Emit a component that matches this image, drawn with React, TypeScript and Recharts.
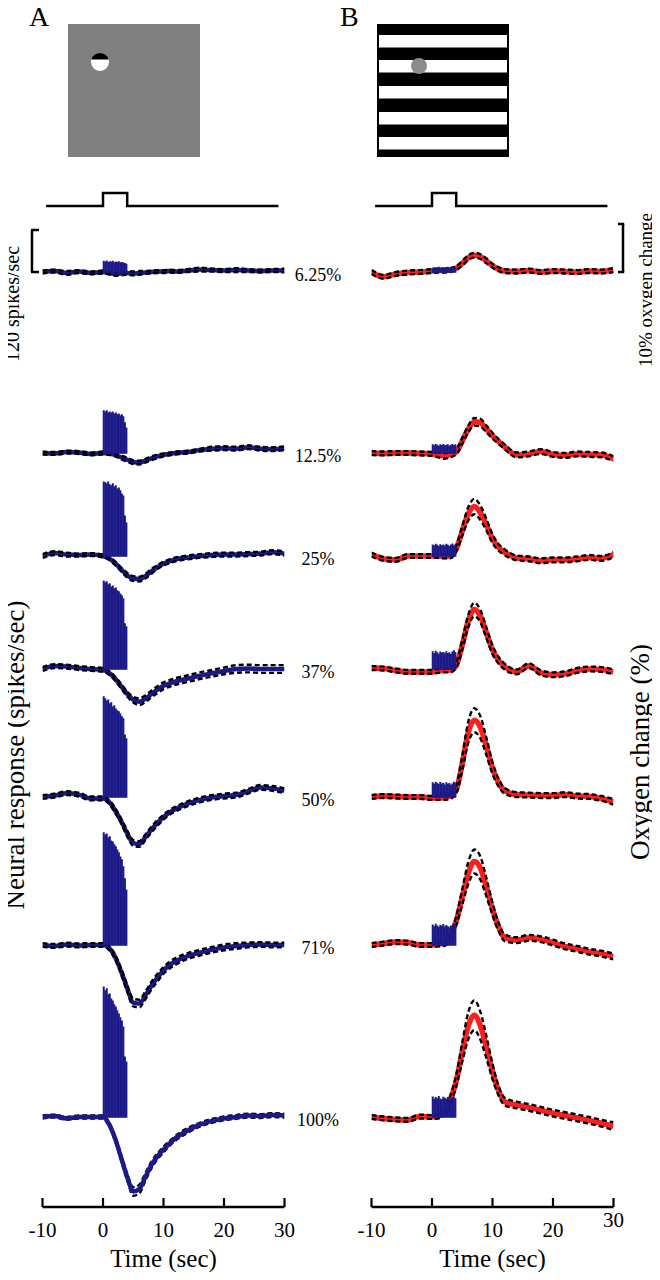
import React from "react";
import { ComposedChart, LineChart, Bar, Line, XAxis, YAxis, ReferenceLine } from "recharts";

// time grid of the oxygen traces (sec)
const times = [-10, -8, -6, -4, -2, 0, 1, 2, 3, 4, 5, 6, 7, 8, 9, 10, 11, 12, 14, 16, 18, 20, 22, 24, 26, 28, 30];
// centres of the spike-rate bins during the stimulus (sec)
const binTimes = [0.125, 0.375, 0.625, 0.875, 1.125, 1.375, 1.625, 1.875, 2.125, 2.375, 2.625, 2.875, 3.125, 3.375, 3.625, 3.875];
const contrasts = ["6.25%", "12.5%", "25%", "37%", "50%", "71%", "100%"];
const timeTicks = [-10, 0, 10, 20, 30];
const stimTimes = [-9.4, 0, 4, 29];
const stimLevel = [0, 1, 0, 0];

// A: oxygen change (%), mean and s.e.
const oxyA625 = [0, 0.2, -0.2, 0.1, -0.2, 0, -0.2, -0.4, -0.3, -0.2, -0.3, -0.2, -0.1, 0, 0.1, 0.1, 0.2, 0.1, 0.3, 0.5, 0.4, 0.3, 0.4, 0.3, 0.2, 0.3, 0.3];
const oxyA125 = [0, -0.1, 0.2, 0.1, -0.2, 0, -0.1, -0.4, -0.9, -1.4, -1.9, -2.0, -1.6, -1.1, -0.7, -0.4, -0.2, 0, 0.2, 0.6, 0.9, 1.0, 0.9, 1.2, 0.9, 0.8, 1.0];
const oxyA25 = [0, 0.6, 0.3, 0.2, 0.3, 0, -0.5, -1.5, -2.8, -4.0, -4.7, -4.8, -4.2, -3.2, -2.3, -1.6, -1.1, -0.7, -0.3, 0, 0.2, 0.3, 0.3, 0.4, 0.5, 0.8, 0.5];
const oxyA37 = [0, 0.6, 0.5, 0.2, 0, -0.2, -0.8, -2.0, -3.6, -5.2, -6.4, -6.8, -6.2, -5.2, -4.3, -3.5, -3.0, -2.6, -2.0, -1.4, -0.9, -0.4, 0, 0.1, 0, 0, 0];
const oxyA50 = [0, 0.3, 0.8, 0.5, -0.3, -0.3, -1.0, -2.8, -5.0, -7.6, -9.6, -9.8, -8.4, -6.8, -5.4, -4.2, -3.2, -2.5, -1.4, -0.6, -0.1, 0.2, 0.4, 1.2, 2.0, 1.8, 1.3];
const oxyA71 = [0, -0.2, 0.1, -0.1, 0, 0, -0.6, -2.5, -5.5, -9.0, -12.0, -12.2, -10.5, -8.5, -6.8, -5.3, -4.2, -3.4, -2.3, -1.6, -1.0, -0.5, -0.2, 0, 0.1, 0, 0];
const oxyA100 = [0, 0.2, -0.3, 0, 0, 0, -1.5, -4.5, -8.5, -12.5, -15.5, -15.0, -12.5, -10.0, -8.2, -6.8, -5.5, -4.4, -2.8, -1.6, -0.8, -0.3, 0, 0.3, 0.2, 0.4, 0.3];

const seA625 = [0.3, 0.3, 0.4, 0.3, 0.3, 0.3, 0.3, 0.4, 0.4, 0.4, 0.4, 0.4, 0.3, 0.3, 0.3, 0.3, 0.3, 0.3, 0.3, 0.4, 0.3, 0.3, 0.4, 0.3, 0.3, 0.3, 0.4];
const seA125 = [0.3, 0.3, 0.3, 0.3, 0.3, 0.3, 0.3, 0.3, 0.4, 0.4, 0.4, 0.4, 0.4, 0.4, 0.4, 0.3, 0.3, 0.3, 0.3, 0.3, 0.4, 0.4, 0.4, 0.4, 0.4, 0.4, 0.4];
const seA25 = [0.4, 0.4, 0.4, 0.3, 0.3, 0.3, 0.3, 0.4, 0.4, 0.5, 0.5, 0.5, 0.5, 0.5, 0.4, 0.4, 0.4, 0.4, 0.4, 0.4, 0.4, 0.4, 0.4, 0.4, 0.4, 0.4, 0.4];
const seA37 = [0.4, 0.4, 0.4, 0.4, 0.4, 0.4, 0.4, 0.4, 0.5, 0.5, 0.6, 0.7, 0.7, 0.7, 0.7, 0.7, 0.7, 0.7, 0.7, 0.7, 0.7, 0.7, 0.8, 0.8, 0.8, 0.8, 0.8];
const seA50 = [0.4, 0.4, 0.4, 0.4, 0.4, 0.4, 0.4, 0.5, 0.5, 0.6, 0.6, 0.6, 0.6, 0.6, 0.6, 0.5, 0.5, 0.5, 0.5, 0.5, 0.5, 0.5, 0.5, 0.5, 0.5, 0.5, 0.5];
const seA71 = [0.4, 0.4, 0.4, 0.4, 0.4, 0.4, 0.4, 0.5, 0.6, 0.7, 0.8, 0.8, 0.8, 0.8, 0.8, 0.7, 0.7, 0.7, 0.6, 0.6, 0.6, 0.6, 0.6, 0.5, 0.5, 0.5, 0.5];
const seA100 = [0.3, 0.3, 0.3, 0.3, 0.3, 0.3, 0.4, 0.5, 0.6, 0.7, 0.9, 0.9, 0.8, 0.7, 0.6, 0.6, 0.5, 0.5, 0.5, 0.4, 0.4, 0.4, 0.4, 0.4, 0.4, 0.4, 0.4];

// A: neural response (spikes/sec)
const spkA625 = [30, 28, 31, 27, 29, 28, 30, 26, 28, 27, 29, 26, 27, 25, 24, 22];
const spkA125 = [120, 117, 120, 114, 117, 114, 117, 111, 114, 109, 111, 106, 109, 103, 86, 71];
const spkA25 = [211, 209, 206, 211, 203, 200, 206, 197, 200, 191, 194, 186, 177, 171, 114, 94];
const spkA37 = [251, 246, 249, 240, 243, 234, 237, 229, 231, 223, 220, 214, 209, 200, 129, 120];
const spkA50 = [286, 280, 274, 277, 266, 269, 257, 260, 251, 246, 243, 237, 229, 223, 177, 166];
const spkA71 = [320, 314, 317, 306, 309, 297, 294, 286, 280, 271, 263, 251, 243, 223, 189, 157];
const spkA100 = [371, 360, 366, 349, 351, 337, 331, 320, 314, 303, 294, 283, 274, 257, 171, 157];

// B: oxygen change (%), mean and s.e.
const oxyB625 = [0, -1.0, -0.4, -0.1, 0, 0.2, 0.3, 0.3, 0.4, 0.8, 1.8, 3.0, 3.5, 3.2, 2.3, 1.3, 0.6, 0.2, 0.1, 0.3, 0, 0.2, 0.1, 0, 0.2, 0.1, 0.4];
const oxyB125 = [0, -0.1, 0, 0, -0.1, -0.2, -0.4, -0.6, -0.4, 0.2, 2.5, 5.0, 6.5, 6.3, 5.0, 3.6, 2.4, 1.3, -0.4, -0.2, 0.3, -0.3, -0.5, -0.2, -0.3, -0.4, -1.2];
const oxyB25 = [0.3, -0.6, -0.8, 0, 0, 0, 0, -0.1, 0, 1.5, 5.2, 8.8, 10.3, 9.0, 6.5, 3.6, 1.8, 0.8, -0.4, -0.6, -1.0, -0.8, -0.8, -0.6, -0.3, -0.5, 0.3];
const oxyB37 = [0.2, 0.1, -0.3, -0.6, -0.6, -0.6, -0.4, -0.3, -0.2, 0.8, 5.0, 10.0, 12.4, 11.0, 7.5, 4.0, 1.8, 0.5, -0.6, 0.7, -0.8, -1.2, -1.0, -0.3, 0, -0.1, -0.6];
const oxyB50 = [0, 0.2, 0.1, 0, 0, -0.2, -0.2, -0.1, 0.2, 1.5, 7.0, 13.5, 16.0, 14.5, 10.5, 6.0, 3.0, 1.3, 0.5, 0.4, 0.3, 0.3, 0.5, 0.2, 0.1, -0.3, -1.0];
const oxyB71 = [0, 0.3, 0.6, 0.5, 0, 0, 0.2, 0.3, 1.8, 5.0, 10.0, 15.0, 17.4, 16.0, 12.0, 7.5, 3.8, 1.5, 1.0, 1.5, 1.2, 0.5, -0.3, -0.8, -1.4, -1.8, -2.4];
const oxyB100 = [0, -0.3, -0.5, -0.6, 0.1, 0, 0.2, 1.0, 3.5, 7.5, 13.5, 19.0, 21.2, 19.0, 14.5, 9.5, 5.5, 3.2, 2.5, 2.0, 1.4, 0.8, 0.3, -0.2, -0.7, -1.3, -1.9];

const seB625 = [0.4, 0.4, 0.4, 0.4, 0.4, 0.4, 0.4, 0.4, 0.4, 0.4, 0.5, 0.5, 0.5, 0.5, 0.5, 0.4, 0.4, 0.4, 0.4, 0.4, 0.4, 0.4, 0.4, 0.4, 0.4, 0.4, 0.4];
const seB125 = [0.4, 0.4, 0.4, 0.4, 0.4, 0.4, 0.5, 0.6, 0.5, 0.5, 0.6, 0.7, 0.8, 0.8, 0.7, 0.6, 0.5, 0.5, 0.5, 0.5, 0.5, 0.5, 0.5, 0.5, 0.5, 0.5, 0.5];
const seB25 = [0.4, 0.4, 0.4, 0.4, 0.4, 0.4, 0.4, 0.4, 0.5, 0.6, 1.0, 1.4, 1.6, 1.5, 1.2, 0.9, 0.7, 0.6, 0.5, 0.5, 0.5, 0.5, 0.5, 0.5, 0.5, 0.5, 0.5];
const seB37 = [0.4, 0.4, 0.4, 0.4, 0.4, 0.4, 0.4, 0.4, 0.5, 0.6, 1.0, 1.3, 1.4, 1.3, 1.1, 0.9, 0.7, 0.6, 0.5, 0.5, 0.5, 0.5, 0.5, 0.5, 0.5, 0.5, 0.5];
const seB50 = [0.4, 0.4, 0.4, 0.4, 0.4, 0.4, 0.4, 0.5, 0.6, 0.8, 1.5, 2.2, 2.5, 2.3, 1.8, 1.2, 0.8, 0.6, 0.5, 0.5, 0.5, 0.5, 0.5, 0.5, 0.5, 0.5, 0.6];
const seB71 = [0.4, 0.4, 0.4, 0.4, 0.4, 0.4, 0.5, 0.5, 0.6, 0.9, 1.6, 2.3, 2.5, 2.4, 1.9, 1.3, 0.9, 0.7, 0.6, 0.6, 0.6, 0.6, 0.6, 0.6, 0.6, 0.6, 0.6];
const seB100 = [0.4, 0.4, 0.4, 0.4, 0.4, 0.4, 0.5, 0.6, 0.8, 1.2, 2.0, 2.8, 3.1, 2.9, 2.3, 1.6, 1.0, 0.8, 0.7, 0.7, 0.7, 0.7, 0.7, 0.7, 0.7, 0.7, 0.8];

// B: neural response (spikes/sec)
const spkB625 = [10, 12, 9, 11, 13, 10, 12, 9, 11, 10, 13, 9, 11, 12, 10, 11];
const spkB125 = [23, 20, 24, 22, 19, 23, 21, 24, 20, 22, 23, 19, 22, 24, 21, 23];
const spkB25 = [31, 28, 33, 30, 27, 32, 29, 31, 28, 33, 30, 27, 31, 34, 29, 32];
const spkB37 = [49, 44, 50, 46, 42, 48, 45, 47, 43, 49, 44, 46, 41, 48, 52, 47];
const spkB50 = [40, 36, 42, 38, 35, 41, 37, 39, 34, 40, 36, 38, 33, 37, 42, 39];
const spkB71 = [57, 52, 59, 54, 50, 56, 53, 58, 51, 55, 52, 49, 54, 50, 60, 58];
const spkB100 = [57, 50, 55, 52, 58, 51, 49, 56, 53, 50, 55, 52, 48, 54, 57, 52];

const oxyA = [oxyA625, oxyA125, oxyA25, oxyA37, oxyA50, oxyA71, oxyA100];
const seA = [seA625, seA125, seA25, seA37, seA50, seA71, seA100];
const spkA = [spkA625, spkA125, spkA25, spkA37, spkA50, spkA71, spkA100];
const oxyB = [oxyB625, oxyB125, oxyB25, oxyB37, oxyB50, oxyB71, oxyB100];
const seB = [seB625, seB125, seB25, seB37, seB50, seB71, seB100];
const spkB = [spkB625, spkB125, spkB25, spkB37, spkB50, spkB71, spkB100];

// layout
const SERIF = "'Liberation Serif', 'Times New Roman', serif";
const NAVY = "#1c1a88";
const RED = "#ff1f1f";
const rowBaselines = [272, 453, 556, 669, 797, 945, 1117];
const ROW_H = 240;
const BASE_OFF = 150;
const AXIS_H = 70;
const OXY_PX = 4.8; // px per 1 % oxygen (10 % bar = 48 px)
const SPK_PX = 0.35; // px per spike/sec (120 spikes/sec bar = 42 px)
const oxyDomain = [-(ROW_H - BASE_OFF) / OXY_PX, BASE_OFF / OXY_PX];
const spkDomain = [-(ROW_H - BASE_OFF) / SPK_PX, BASE_OFF / SPK_PX];
const COLS = {
  A: { left: 0, ml: 42.5, mr: 45.5 },
  B: { left: 330, ml: 41.5, mr: 46.5 },
};

function TimeTick(props: any) {
  const { x, y, payload, lift } = props;
  const raised = lift && payload.value === 30;
  return (
    <text x={x} y={y + (raised ? 20 : 30)} textAnchor="middle" fontFamily={SERIF} fontSize={21} fill="#000">
      {payload.value}
    </text>
  );
}

function Row({ col, i }: { col: "A" | "B"; i: number }) {
  const c = COLS[col];
  const mean = col === "A" ? oxyA[i] : oxyB[i];
  const se = col === "A" ? seA[i] : seB[i];
  const spk = col === "A" ? spkA[i] : spkB[i];
  const last = i === rowBaselines.length - 1;
  const meanOnTop = col === "A" && last;
  const lineColor = col === "A" ? NAVY : RED;

  const lineData = times.map((t, k) => ({ t, m: mean[k], hi: mean[k] + se[k], lo: mean[k] - se[k] }));
  const barData = binTimes.map((t, k) => ({ t, s: spk[k] }));

  const meanLine = (
    <Line
      yAxisId="oxy"
      data={lineData}
      dataKey="m"
      type="monotone"
      stroke={lineColor}
      strokeWidth={col === "A" ? 4.5 : 5.5}
      dot={false}
      isAnimationActive={false}
    />
  );
  const seLines = ["hi", "lo"].map((k) => (
    <Line
      key={k}
      yAxisId="oxy"
      data={lineData}
      dataKey={k}
      type="monotone"
      stroke="#000"
      strokeWidth={2.4}
      strokeDasharray="5 3"
      dot={false}
      isAnimationActive={false}
    />
  ));

  return (
    <div style={{ position: "absolute", left: c.left, top: rowBaselines[i] - BASE_OFF }}>
      <ComposedChart
        width={330}
        height={ROW_H + (last ? AXIS_H : 0)}
        data={barData}
        margin={{ top: 0, bottom: 0, left: c.ml, right: c.mr }}
      >
        <XAxis
          dataKey="t"
          type="number"
          domain={[-10, 30]}
          ticks={timeTicks}
          allowDataOverflow
          hide={!last}
          height={AXIS_H}
          axisLine={{ stroke: "#000", strokeWidth: 2.4 }}
          tickLine={{ stroke: "#000", strokeWidth: 2.2 }}
          tickSize={-9}
          tickMargin={9}
          tick={(p: any) => <TimeTick {...p} lift={col === "B"} />}
        />
        <YAxis yAxisId="oxy" domain={oxyDomain} allowDataOverflow hide />
        <YAxis yAxisId="spk" domain={spkDomain} allowDataOverflow hide />
        {meanOnTop ? null : meanLine}
        {seLines}
        {meanOnTop ? meanLine : null}
        <Bar
          yAxisId="spk"
          dataKey="s"
          fill={NAVY}
          stroke={NAVY}
          strokeWidth={1.3}
          barSize={1.5}
          zIndex={500}
          isAnimationActive={false}
        />
        {i === 0 && col === "A" && (
          <>
            <ReferenceLine yAxisId="spk" ifOverflow="visible" stroke="#000" strokeWidth={2.5}
              segment={[{ x: -11.74, y: 0 }, { x: -11.74, y: 120 }]} />
            <ReferenceLine yAxisId="spk" ifOverflow="visible" stroke="#000" strokeWidth={2.5}
              segment={[{ x: -11.9, y: 120 }, { x: -10.58, y: 120 }]} />
            <ReferenceLine yAxisId="spk" ifOverflow="visible" stroke="#000" strokeWidth={2.5}
              segment={[{ x: -11.9, y: 0 }, { x: -10.58, y: 0 }]} />
          </>
        )}
        {i === 0 && col === "B" && (
          <>
            <ReferenceLine yAxisId="oxy" ifOverflow="visible" stroke="#000" strokeWidth={2.5}
              segment={[{ x: 31.57, y: 0 }, { x: 31.57, y: 10 }]} />
            <ReferenceLine yAxisId="oxy" ifOverflow="visible" stroke="#000" strokeWidth={2.5}
              segment={[{ x: 30.74, y: 10 }, { x: 31.77, y: 10 }]} />
            <ReferenceLine yAxisId="oxy" ifOverflow="visible" stroke="#000" strokeWidth={2.5}
              segment={[{ x: 30.74, y: 0 }, { x: 31.77, y: 0 }]} />
          </>
        )}
      </ComposedChart>
    </div>
  );
}

function Stimulus({ col }: { col: "A" | "B" }) {
  const c = COLS[col];
  const data = stimTimes.map((t, k) => ({ t, v: stimLevel[k] }));
  // 0 -> y 206, 1 -> y 193 (13 px per unit), chart top at 186, height 30
  return (
    <div style={{ position: "absolute", left: c.left, top: 186 }}>
      <LineChart width={330} height={30} data={data} margin={{ top: 0, bottom: 0, left: c.ml, right: c.mr }}>
        <XAxis dataKey="t" type="number" domain={[-10, 30]} allowDataOverflow hide />
        <YAxis domain={[-10 / 13, 20 / 13]} allowDataOverflow hide />
        <Line dataKey="v" type="stepAfter" stroke="#000" strokeWidth={2.5} dot={false} isAnimationActive={false} />
      </LineChart>
    </div>
  );
}

function Overlay() {
  const stripes = [35, 60, 86, 112, 137];
  return (
    <svg width={660} height={1280} style={{ position: "absolute", left: 0, top: 0, pointerEvents: "none" }}>
      <g fontFamily={SERIF} fill="#000">
        <text x={29} y={26} fontSize={28}>A</text>
        <text x={340} y={26} fontSize={28}>B</text>

        {/* stimulus A: grey field with a small disc */}
        <rect x={68} y={24} width={132} height={133} fill="#808080" />
        <circle cx={100} cy={62} r={9} fill="#fff" />
        <path d="M 91.35 59.5 A 9 9 0 0 1 108.65 59.5 Z" fill="#000" />

        {/* stimulus B: grating with a grey disc */}
        <rect x={377} y={24} width={132} height={133} fill="#000" />
        {stripes.map((y) => (
          <rect key={y} x={379} y={y} width={128} height={12.5} fill="#fff" />
        ))}
        <circle cx={419} cy={66} r={8} fill="#8c8c8c" />

        <text transform="translate(19,304) rotate(-90)" textAnchor="middle" fontSize={20}>120 spikes/sec</text>
        <text transform="translate(652,290) rotate(-90)" textAnchor="middle" fontSize={19}>10% oxygen change</text>
        <text transform="translate(24,755) rotate(-90)" textAnchor="middle" fontSize={27}>Neural response (spikes/sec)</text>
        <text transform="translate(649,752) rotate(-90)" textAnchor="middle" fontSize={27}>Oxygen change (%)</text>

        {contrasts.map((label, k) => (
          <text key={label} x={318} y={rowBaselines[k] + 9} textAnchor="middle" fontSize={18}>{label}</text>
        ))}

        <text x={163.5} y={1267} textAnchor="middle" fontSize={25}>Time (sec)</text>
        <text x={492.5} y={1267} textAnchor="middle" fontSize={25}>Time (sec)</text>
      </g>
    </svg>
  );
}

export default function App() {
  return (
    <div style={{ position: "relative", width: 660, height: 1280, margin: -8, background: "#fff", overflow: "hidden" }}>
      <Stimulus col="A" />
      <Stimulus col="B" />
      {rowBaselines.map((_, i) => (
        <Row key={"A" + i} col="A" i={i} />
      ))}
      {rowBaselines.map((_, i) => (
        <Row key={"B" + i} col="B" i={i} />
      ))}
      <Overlay />
    </div>
  );
}
